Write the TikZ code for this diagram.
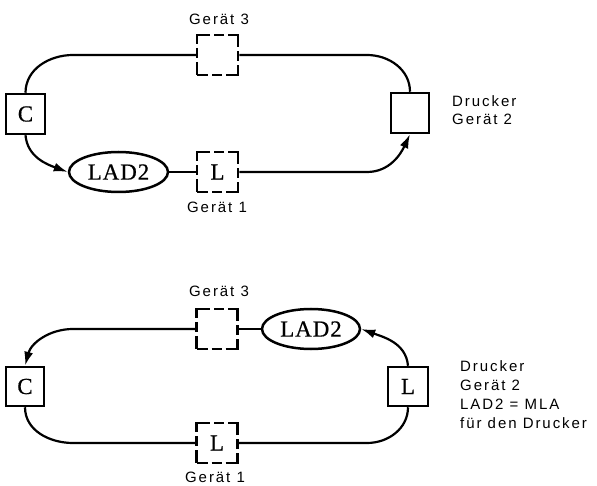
\documentclass[tikz,border=0pt]{standalone}
\usepackage{fontspec}
\setmainfont{Liberation Serif}
\newfontfamily\boxfont[LetterSpace=4,FakeBold=0.6]{Liberation Serif}
\newfontfamily\lblfont[LetterSpace=13]{Liberation Sans}
\usetikzlibrary{shapes.geometric,arrows.meta}
\tikzset{
  conn/.style={line width=2.2pt},
  arr/.style={conn,-{Latex[length=14pt,width=9pt]}},
  solidbox/.style={draw,line width=2.5pt,minimum width=39pt,minimum height=40pt,inner sep=0pt,font=\boxfont\fontsize{23}{23}\selectfont},
  dashbox/.style={draw,line width=2.5pt,minimum width=41pt,minimum height=40pt,inner sep=0pt,
    dash pattern=on 22pt off 4pt on 10pt off 4pt,dash phase=11pt,font=\boxfont\fontsize{23}{23}\selectfont},
  ladell/.style={draw,ellipse,line width=2.5pt,minimum width=99pt,minimum height=40pt,inner sep=0pt,font=\boxfont\fontsize{23}{23}\selectfont},
  lbl/.style={inner sep=0pt,font=\lblfont\fontsize{15}{15}\selectfont}
}
\begin{document}
\begin{tikzpicture}[x=1pt,y=1pt]
\useasboundingbox (0,0) rectangle (597,485);
% ---------- top diagram ----------
\node[solidbox] (C) at (25.5,371) {C};
\node[dashbox] (G3) at (217.5,430) {};
\node[ladell] (LAD) at (118.5,313) {LAD2};
\node[dashbox] (L1) at (217.5,313) {L};
\node[solidbox,minimum width=38pt] (Dr) at (410,372) {};
\node[lbl,anchor=base] (g3t) at (219,460) {Gerät 3};
\node[lbl,anchor=base] (g1t) at (217,272) {Gerät 1};
\node[lbl,anchor=base west] (dt1) at (452,378.5) {Drucker};
\node[lbl,anchor=base west] (dt2) at (452,360) {Gerät 2};
\coordinate (ta) at (73,430);
\coordinate (tb) at (367,430);
\coordinate (tc) at (367,313);
\draw[conn] (C.north) to[out=90,in=180] (ta) -- (G3.west);
\draw[conn] (G3.east) -- (tb) to[out=0,in=90] (Dr.north);
\draw[arr] (C.south) to[out=-85,in=160] (LAD.west);
\draw[conn] (LAD.east) -- (L1.west);
\draw[arr] (L1.east) -- (tc) to[out=0,in=-115] (Dr.south);
% ---------- bottom diagram ----------
\node[solidbox,minimum width=38pt,minimum height=39pt] (Cb) at (25,98.5) {C};
\node[dashbox] (G3b) at (217,156) {};
\node[ladell,minimum width=98pt] (LADb) at (311,156) {LAD2};
\node[dashbox] (L2b) at (217,42) {L};
\node[solidbox,minimum width=40pt,minimum height=39pt] (Lb) at (408,98.5) {L};
\node[lbl,anchor=base] (g3bt) at (219,188.5) {Gerät 3};
\node[lbl,anchor=base] (g1bt) at (215,2.5) {Gerät 1};
\node[lbl,anchor=base west] (e1) at (460,113.3) {Drucker};
\node[lbl,anchor=base west] (e2) at (460,94.5) {Gerät 2};
\node[lbl,anchor=base west] (e3) at (460,75.5) {LAD2 = MLA};
\node[lbl,anchor=base west] (e4) at (460,56.5) {für den Drucker};
\coordinate (ba) at (73,156);
\coordinate (bb) at (73,42);
\coordinate (bc) at (367,42);
\draw[arr] (G3b.west) -- (ba) to[out=180,in=75] (Cb.north);
\draw[conn] (G3b.east) -- (LADb.west);
\draw[arr] (Lb.north) to[out=95,in=-20] (LADb.east);
\draw[conn] (Cb.south) to[out=-90,in=180] (bb) -- (L2b.west);
\draw[conn] (L2b.east) -- (bc) to[out=0,in=-90] (Lb.south);
\end{tikzpicture}
\end{document}
